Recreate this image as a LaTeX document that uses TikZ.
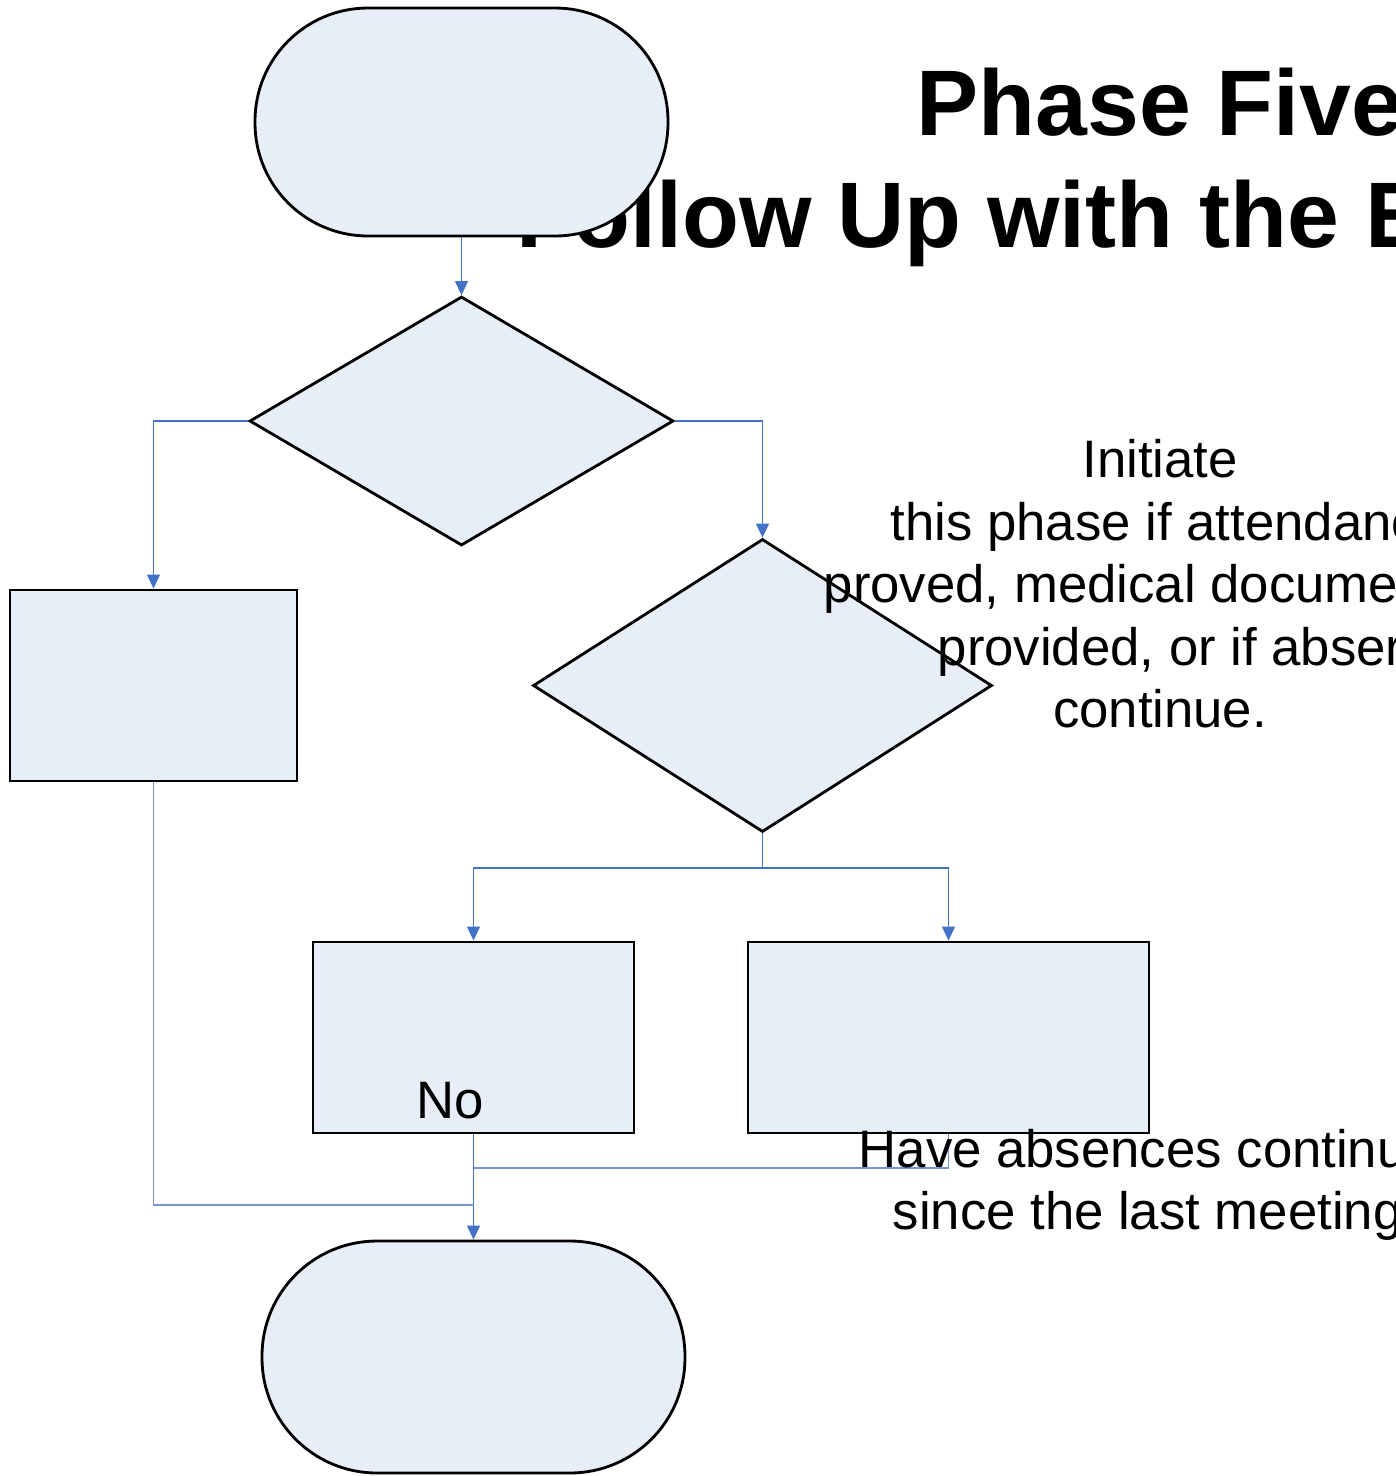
\documentclass[tikz,border=0pt]{standalone}
\usepackage{fontspec}
\setmainfont{Liberation Sans}
\usetikzlibrary{shapes.geometric, arrows.meta}
\definecolor{boxfill}{HTML}{E8EEF8}
\definecolor{linkblue}{HTML}{4472C4}

\begin{document}
\begin{tikzpicture}[x=0.1mm, y=-0.1mm,
  term/.style = {draw, line width=0.8pt, fill=boxfill, rounded corners=11.3mm, inner sep=0pt},
  box/.style = {draw, line width=0.8pt, fill=boxfill, inner sep=0pt},
  dec/.style = {draw, diamond, line width=0.8pt, fill=boxfill, inner sep=0pt},
  link/.style = {draw=linkblue, line width=0.35pt, -{Triangle[width=1.3mm,length=1.4mm]}},
  plain/.style = {draw=linkblue!75, line width=0.35pt},
  txt/.style = {inner sep=0pt, font=\fontsize{15}{18}\selectfont},
  head/.style = {inner sep=0pt, font=\fontsize{26.5}{32}\selectfont\bfseries}]
\useasboundingbox (0,0) rectangle (1396,1476);
\clip (0,0) rectangle (1396,1476);

% title
\node[head, anchor=base west] (t1) at (916,135) {Phase Five};
\node[head, anchor=base west] (t2) at (516,247) {Follow Up with the E};

% shapes
\node[term, minimum width=41.3mm, minimum height=22.8mm] (start) at (461.5,122) {};
\node[dec, minimum width=42.4mm, minimum height=24.9mm] (d1) at (461.5,421) {};
\node[box, minimum width=28.7mm, minimum height=19.1mm] (b1) at (153.5,685.5) {};
\node[dec, minimum width=45.9mm, minimum height=29.3mm] (d2) at (762.5,685.5) {};
\node[box, minimum width=32.1mm, minimum height=19.1mm] (b2) at (473.5,1037.5) {};
\node[box, minimum width=40.1mm, minimum height=19.1mm] (b3) at (948.5,1037.5) {};
\node[term, rounded corners=11.5mm, minimum width=42.3mm, minimum height=23.2mm] (stop) at (473.5,1357) {};

\coordinate (split) at (762.5,868);
\coordinate (m1) at (473.5,1168);
\coordinate (m2) at (473.5,1205);

% connectors
\path[link] (start.south) -- (d1.north);
\path[link] (d1.west) -| (b1.north);
\path[link] (d1.east) -| (d2.north);
\path[link] (d2.south) -- (split) -| (b2.north);
\path[link] (split) -| (b3.north);
\path[link] (b2.south) -- (stop.north);
\path[plain] (b3.south) |- (m1);
\path[plain] (b1.south) |- (m2);

% texts
\node[txt, anchor=base] (n1) at (1160,477) {Initiate};
\node[txt, anchor=base west] (n2) at (890,540) {this phase if attendanc};
\node[txt, anchor=base west] (n3) at (823,602) {proved, medical docume};
\node[txt, anchor=base west] (n4) at (937,665) {provided, or if abser};
\node[txt, anchor=base] (n5) at (1160,727) {continue.};
\node[txt, anchor=base west] (no) at (416,1118) {No};
\node[txt, anchor=base west] (q1) at (858,1167) {Have absences continu};
\node[txt, anchor=base west] (q2) at (892,1229) {since the last meeting};
\end{tikzpicture}
\end{document}
